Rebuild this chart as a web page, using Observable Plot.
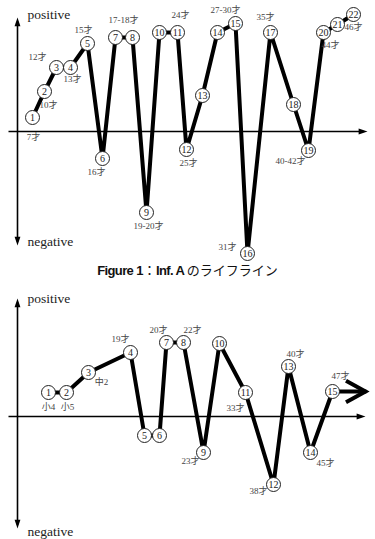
<!DOCTYPE html>
<html>
<head>
<meta charset="utf-8">
<script src="https://cdn.jsdelivr.net/npm/d3@7"></script>
<script src="https://cdn.jsdelivr.net/npm/@observablehq/plot@0.6"></script>
<style>
  body { margin: 0; background: #fff; }
  #caption { height: 16px; line-height: 16px; text-align: center; font-family: "Noto Sans CJK JP", sans-serif; font-size: 13px; color: #111; white-space: nowrap; }
  #caption .lat { font-family: "Liberation Sans", Arial, sans-serif; font-weight: bold; letter-spacing: -0.6px; }
  svg { display: block; }
</style>
</head>
<body>
<div id="top"></div>
<div id="caption"><span class="lat">Figure 1</span>：<span class="lat">Inf. A </span>のライフライン</div>
<div id="bottom"></div>
<script>
// ---------- Figure 1 (Inf. A) ----------
const topIds  = [1,2,3,4,5,6,7,8,9,10,11,12,13,14,15,16,17,18,19,20,21,22];
const topPos  = [1.5,2.7,3.9,5.3,7.0,8.5,9.8,11.5,12.9,14.2,16.0,16.9,18.5,20.0,21.8,23.0,25.3,27.6,29.1,30.6,32.0,33.6];
const topVal  = [1.4,4.0,6.4,6.4,8.8,-2.7,9.4,9.4,-8.1,9.9,9.9,-1.8,3.6,9.9,10.8,-12.2,9.9,2.7,-1.9,9.9,10.7,11.7];
const topAges    = ["7才","10才","12才","13才","15才","16才","17-18才","19-20才","24才","25才","27-30才","31才","35才","40-42才","44才","46才"];
const topAgePos  = [1.6,3.1,2.0,5.5,6.6,7.9,10.6,13.1,16.3,17.1,20.8,21.0,24.8,27.3,31.3,33.6];
const topAgeVal  = [-0.6,2.6,7.4,5.2,10.1,-4.1,11.1,-9.5,11.6,-3.2,12.1,-11.6,11.4,-3.0,8.6,10.4];

// ---------- Figure 2 ----------
const botIds  = [1,2,3,4,5,6,7,8,9,10,11,12,13,14,15];
const botPos  = [3.1,4.9,7.1,11.3,12.7,14.2,14.9,16.6,18.6,20.2,22.8,25.6,27.1,29.3,31.5];
const botVal  = [2.4,2.4,4.4,6.4,-1.9,-1.9,7.4,7.4,-3.6,7.3,2.4,-6.8,5.0,-3.6,2.5];
const botTailPos = 34.8;
const botAges    = ["小4","小5","中2","19才","20才","22才","23才","33才","38才","40才","45才","47才"];
const botAgePos  = [3.1,5.0,8.4,10.3,14.1,17.5,17.3,21.8,24.1,27.8,30.8,32.3];
const botAgeVal  = [0.9,0.9,3.4,7.7,8.6,8.6,-4.5,0.8,-7.5,6.2,-4.7,4.0];

// axis words
const axisLabels = ["positive", "negative"];

const serif = "'Liberation Serif', 'DejaVu Serif', 'Noto Sans CJK JP', serif";

// custom arrowhead symbols (tip at origin, pointing up)
const solidHead = {draw(ctx, size) { const l = Math.sqrt(size); ctx.moveTo(0, 0); ctx.lineTo(-l * 0.33, l); ctx.lineTo(l * 0.33, l); ctx.closePath(); }};
const chevron = {draw(ctx, size) { const l = Math.sqrt(size); ctx.moveTo(-l * 0.55, l); ctx.lineTo(0, 0); ctx.lineTo(l * 0.55, l); }};

function lifeline({ids, pos, val, ages, agePos, ageVal, ydom, height, xExt, yExt, wordY, tail}) {
  const pts = ids.map((id, i) => ({id, x: pos[i], y: val[i]}));
  const ageData = ages.map((t, i) => ({t, x: agePos[i], y: ageVal[i]}));
  const path = tail ? [...pts, {x: tail, y: pts[pts.length - 1].y}] : pts;
  const heads = [
    {x: xExt[1], y: 0, r: 90},
    {x: 0, y: yExt[0], r: 0},
    {x: 0, y: yExt[1], r: 180}
  ];
  const words = axisLabels.map((t, i) => ({t, x: 1.0, y: wordY[i]}));
  const marks = [
    Plot.link([{x1: xExt[0], x2: xExt[1] - 0.4}], {x1: "x1", x2: "x2", y1: () => 0, y2: () => 0, stroke: "#000", strokeWidth: 1.3}),
    Plot.link([{y1: yExt[0] - 0.4, y2: yExt[1] + 0.4}], {x1: () => 0, x2: () => 0, y1: "y1", y2: "y2", stroke: "#000", strokeWidth: 1.6}),
    Plot.dot(heads, {x: "x", y: "y", rotate: "r", symbol: solidHead, r: 5, fill: "#000", stroke: "none"}),
    Plot.text(words, {x: "x", y: "y", text: "t", textAnchor: "start", fontSize: 13.5, fontFamily: serif, fill: "#222"}),
    Plot.line(path, {x: "x", y: "y", stroke: "#000", strokeWidth: 4, strokeLinejoin: "miter", curve: "linear"})
  ];
  if (tail) {
    marks.push(Plot.dot([{x: tail, y: pts[pts.length - 1].y}], {x: "x", y: "y", rotate: () => 90, symbol: chevron, r: 11, stroke: "#000", strokeWidth: 4, fill: "none", strokeLinejoin: "miter"}));
  }
  marks.push(
    Plot.dot(pts, {x: "x", y: "y", r: 7, fill: "#fff", stroke: "#222", strokeWidth: 1}),
    Plot.text(pts, {x: "x", y: "y", text: "id", fontSize: 10, fontFamily: serif, fill: "#222"}),
    Plot.text(ageData, {x: "x", y: "y", text: "t", fontSize: 9, fontFamily: serif, fill: "#444"})
  );
  return Plot.plot({
    width: 375, height,
    marginLeft: 17, marginRight: 8, marginTop: 0, marginBottom: 0,
    x: {domain: [0, 35], axis: null},
    y: {domain: ydom, axis: null},
    style: {background: "#fff", fontFamily: serif},
    marks
  });
}

document.getElementById("top").appendChild(lifeline({
  ids: topIds, pos: topPos, val: topVal, ages: topAges, agePos: topAgePos, ageVal: topAgeVal,
  ydom: [-13.1, 13.1], height: 262, xExt: [-0.9, 35], yExt: [11.4, -11.4], wordY: [11.7, -11.0]
}));
document.getElementById("bottom").appendChild(lifeline({
  ids: botIds, pos: botPos, val: botVal, ages: botAges, agePos: botAgePos, ageVal: botAgeVal,
  ydom: [-12.3, 13.8], height: 261, xExt: [-0.9, 34.8], yExt: [11.8, -11.2], wordY: [11.8, -11.5], tail: botTailPos
}));
</script>
</body>
</html>
